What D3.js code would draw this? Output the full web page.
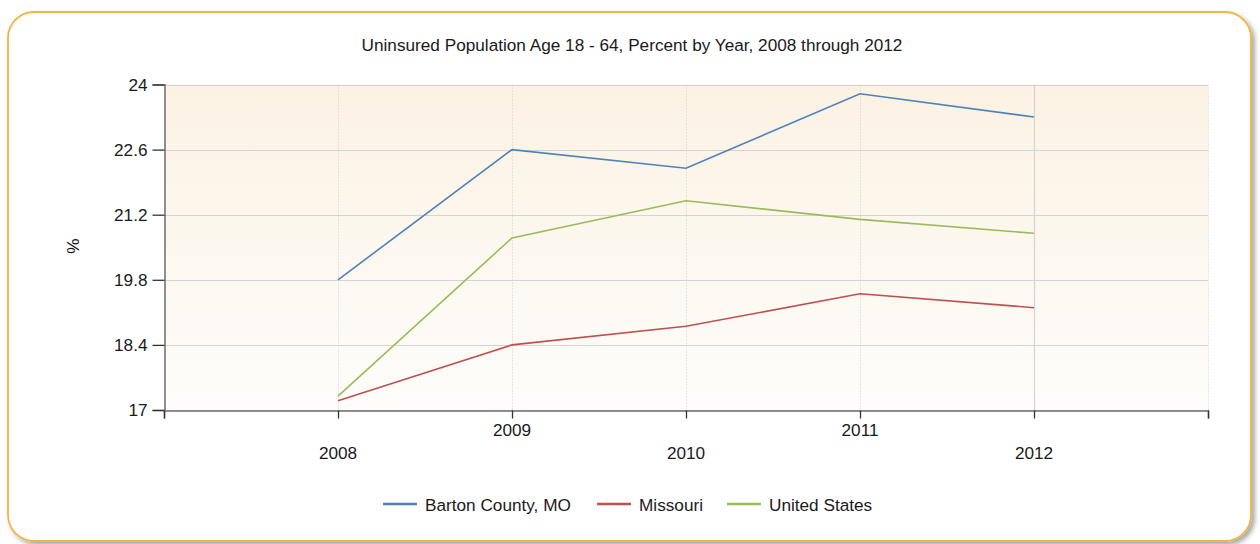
<!DOCTYPE html>
<html><head><meta charset="utf-8">
<script src="https://cdn.jsdelivr.net/npm/d3@7"></script>
<style>
html,body{margin:0;padding:0;background:#fff;}
svg{display:block;font-family:"Liberation Sans",Arial,sans-serif;}
</style></head>
<body>
<svg id="chart" width="1260" height="544"></svg>
<script>
const years = [2008, 2009, 2010, 2011, 2012];
const barton = [19.8, 22.6, 22.2, 23.8, 23.3];
const missouri = [17.2, 18.4, 18.8, 19.5, 19.2];
const unitedStates = [17.3, 20.7, 21.5, 21.1, 20.8];
const seriesNames = ["Barton County, MO", "Missouri", "United States"];
const seriesColors = ["#4f81bd", "#c0504d", "#9bbb59"];
const yTicks = [17, 18.4, 19.8, 21.2, 22.6, 24];
const title = "Uninsured Population Age 18 - 64, Percent by Year, 2008 through 2012";
const yLabel = "%";

(function(){
const FS = 17.2;
const series = [barton, missouri, unitedStates].map((v, i) => ({name: seriesNames[i], color: seriesColors[i], values: v}));

const svg = d3.select("#chart");
const defs = svg.append("defs");

const f = defs.append("filter").attr("id","shadow").attr("x","-5%").attr("y","-5%").attr("width","110%").attr("height","110%");
f.append("feGaussianBlur").attr("in","SourceAlpha").attr("stdDeviation",2.5);
f.append("feOffset").attr("dx",3).attr("dy",3).attr("result","ob");
f.append("feComponentTransfer").append("feFuncA").attr("type","linear").attr("slope",0.35);
const fm = f.append("feMerge"); fm.append("feMergeNode"); fm.append("feMergeNode").attr("in","SourceGraphic");

const grad = defs.append("linearGradient").attr("id","bg").attr("x1",0).attr("y1",0).attr("x2",0).attr("y2",1);
grad.append("stop").attr("offset","0%").attr("stop-color","#fbf2e3");
grad.append("stop").attr("offset","100%").attr("stop-color","#fefdfb");

svg.append("rect").attr("x",8).attr("y",12).attr("width",1243).attr("height",529)
  .attr("rx",26).attr("ry",26).attr("fill","#fff").attr("stroke","#f2b447").attr("stroke-width",1.8)
  .attr("filter","url(#shadow)");

const pl = 164, pr = 1208, pt = 84.5, pb = 410;
const x = d3.scaleLinear().domain([2007, 2013]).range([pl, pr]);
const y = d3.scaleLinear().domain([17, 24]).range([pb, pt]);

svg.append("rect").attr("x",pl).attr("y",pt).attr("width",pr-pl).attr("height",pb-pt).attr("fill","url(#bg)");

svg.append("g").selectAll("line").data(yTicks).join("line")
  .attr("x1",pl).attr("x2",pr).attr("y1",d=>Math.round(y(d))+0.5).attr("y2",d=>Math.round(y(d))+0.5)
  .attr("stroke","#d4d4d4").attr("stroke-width",1.2);

const vx = d3.range(2008, 2014);
svg.append("g").selectAll("line").data(vx).join("line")
  .attr("x1",d=>Math.round(x(d))+0.5).attr("x2",d=>Math.round(x(d))+0.5).attr("y1",pt).attr("y2",pb)
  .attr("stroke", d => d===2012 ? "#d4d4d4" : "#cfcfcf")
  .attr("stroke-width", d => d===2012 ? 1.2 : 1)
  .attr("stroke-dasharray", d => d===2012 ? null : "1,2");

const yAxis = d3.axisLeft(y).tickValues(yTicks).tickSize(12).tickPadding(5).tickFormat(d3.format("~g"));
const gy = svg.append("g").attr("transform",`translate(${pl+0.5},0)`).call(yAxis);
gy.select(".domain").attr("stroke","#6e6e6e").attr("stroke-width",1.5);
gy.selectAll(".tick line").attr("stroke","#333").attr("stroke-width",1.3);
gy.selectAll(".tick text").attr("font-size",FS).attr("fill","#1a1a1a").attr("font-family","Liberation Sans, Arial, sans-serif");

const xAxis = d3.axisBottom(x).tickValues(d3.range(2007, 2014)).tickSize(8).tickFormat("");
const gx = svg.append("g").attr("transform",`translate(0,${pb+0.5})`).call(xAxis);
gx.select(".domain").attr("stroke","#6e6e6e").attr("stroke-width",1.5);
gx.selectAll(".tick line").attr("stroke","#333").attr("stroke-width",1.3);

svg.append("g").selectAll("text").data(years).join("text")
  .attr("x",d=>x(d)).attr("y",(d,i)=> i%2===1 ? 436 : 459)
  .attr("text-anchor","middle").attr("font-size",FS).attr("fill","#1a1a1a")
  .text(d=>d);

const line = d3.line().x((d,i)=>x(years[i])).y(d=>y(d));
svg.append("g").selectAll("path").data(series).join("path")
  .attr("d",d=>line(d.values)).attr("fill","none").attr("stroke",d=>d.color).attr("stroke-width",1.6);

svg.append("text").attr("x",632).attr("y",51).attr("text-anchor","middle").attr("font-size",FS).attr("fill","#1a1a1a").text(title);

svg.append("text").attr("transform","translate(79,246) rotate(-90)").attr("text-anchor","middle").attr("font-size",FS).attr("fill","#1a1a1a").text(yLabel);

const legX = [383, 597, 727];
const lg = svg.append("g").selectAll("g").data(series).join("g").attr("transform",(d,i)=>`translate(${legX[i]},504)`);
lg.append("line").attr("x1",0).attr("x2",34).attr("y1",0).attr("y2",0).attr("stroke",d=>d.color).attr("stroke-width",2.5);
lg.append("text").attr("x",42).attr("y",7).attr("font-size",FS).attr("fill","#1a1a1a").text(d=>d.name);
})();
</script>
</body></html>
